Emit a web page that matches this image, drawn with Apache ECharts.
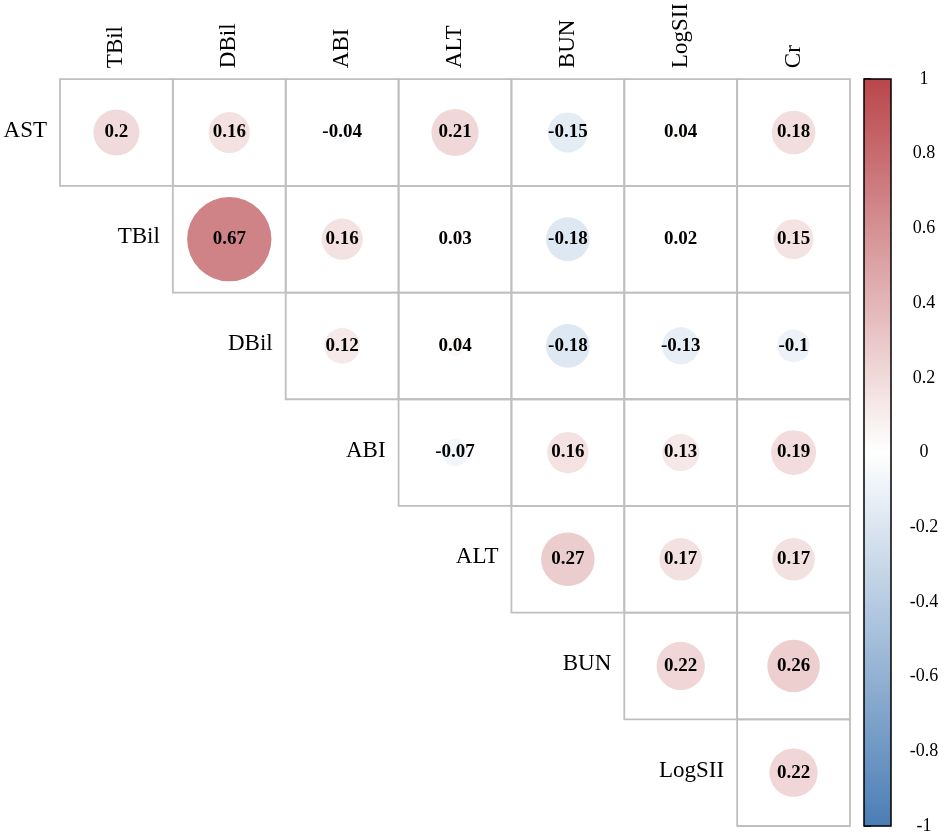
<!DOCTYPE html>
<html><head><meta charset="utf-8">
<script src="https://cdn.jsdelivr.net/npm/echarts@6/dist/echarts.min.js"></script>
<style>html,body{margin:0;padding:0;background:#fff}#c{width:944px;height:837px}</style>
</head><body><div id="c"></div>
<script>
// Column and row variable names
const colLabels = ['TBil', 'DBil', 'ABI', 'ALT', 'BUN', 'LogSII', 'Cr'];
const rowLabels = ['AST', 'TBil', 'DBil', 'ABI', 'ALT', 'BUN', 'LogSII'];

// Upper-triangle correlations, each row starts at the diagonal column
const rowAST    = [0.2, 0.16, -0.04, 0.21, -0.15, 0.04, 0.18];
const rowTBil   = [0.67, 0.16, 0.03, -0.18, 0.02, 0.15];
const rowDBil   = [0.12, 0.04, -0.18, -0.13, -0.1];
const rowABI    = [-0.07, 0.16, 0.13, 0.19];
const rowALT    = [0.27, 0.17, 0.17];
const rowBUN    = [0.22, 0.26];
const rowLogSII = [0.22];

const colorbarMin = -1;
const colorbarMax = 1;
const colorbarStep = 0.2;

const rowValues = [rowAST, rowTBil, rowDBil, rowABI, rowALT, rowBUN, rowLogSII];
const cells = [];
const circles = [];
rowValues.forEach(function (vals, i) {
  vals.forEach(function (v, k) {
    const j = i + k;
    cells.push([j, i]);
    circles.push([j, i, v]);
  });
});
const labelPoints = rowLabels.map(function (name, i) { return [i, i]; });

const FONT = '"Liberation Serif", "Times New Roman", serif';
const RED = '#B9464B';
const BLUE = '#4A7DB5';

const chart = echarts.init(document.getElementById('c'), null, { renderer: 'canvas' });
chart.setOption({
  animation: false,
  backgroundColor: '#fff',
  grid: [
    { left: 60, top: 79, width: 790, height: 747 },
    { left: 864, top: 79, width: 27, height: 747 }
  ],
  xAxis: [
    {
      type: 'category', data: colLabels, position: 'top', gridIndex: 0,
      axisLine: { show: false }, axisTick: { show: false }, splitLine: { show: false },
      axisLabel: { rotate: -90, margin: 11, fontFamily: FONT, fontSize: 23, color: '#000' }
    },
    { type: 'value', gridIndex: 1, min: 0, max: 1, show: false }
  ],
  yAxis: [
    { type: 'category', data: rowLabels, inverse: true, gridIndex: 0, show: false },
    {
      type: 'value', gridIndex: 1, min: colorbarMin, max: colorbarMax, interval: colorbarStep,
      position: 'right',
      axisLine: { show: false },
      axisTick: { show: true, length: 7, lineStyle: { color: '#000', width: 1.5 } },
      splitLine: { show: false },
      axisLabel: {
        margin: 33, align: 'center', fontFamily: FONT, fontSize: 18, color: '#000',
        formatter: function (v) { return String(Math.round(v * 10) / 10); }
      }
    }
  ],
  visualMap: {
    show: false, type: 'continuous', min: colorbarMin, max: colorbarMax,
    dimension: 2, seriesIndex: 1,
    inRange: { color: [BLUE, '#FFFFFF', RED] }
  },
  series: [
    {
      type: 'custom', xAxisIndex: 0, yAxisIndex: 0, data: cells, silent: true,
      renderItem: function (params, api) {
        const c = api.coord([api.value(0), api.value(1)]);
        const s = api.size([1, 1]);
        return {
          type: 'rect',
          shape: { x: c[0] - s[0] / 2, y: c[1] - s[1] / 2, width: s[0], height: s[1] },
          style: { fill: 'none', stroke: '#BFBFBF', lineWidth: 1.8 }
        };
      }
    },
    {
      type: 'scatter', xAxisIndex: 0, yAxisIndex: 0, data: circles, silent: true,
      symbol: 'circle',
      symbolSize: function (v) { return 103 * Math.sqrt(Math.abs(v[2])); },
      itemStyle: { opacity: 1 },
      label: {
        show: true, position: 'inside', color: '#000',
        textBorderWidth: 0,
        fontFamily: FONT, fontWeight: 'bold', fontSize: 19,
        formatter: function (p) { return String(p.value[2]); }
      },
      emphasis: { disabled: true }
    },
    {
      type: 'custom', xAxisIndex: 0, yAxisIndex: 0, data: labelPoints, silent: true,
      renderItem: function (params, api) {
        const c = api.coord([api.value(0), api.value(1)]);
        const s = api.size([1, 1]);
        return {
          type: 'text',
          x: c[0] - s[0] / 2 - 13, y: c[1] - 2,
          style: {
            text: rowLabels[params.dataIndex], fill: '#000',
            fontFamily: FONT, fontSize: 23, align: 'right', verticalAlign: 'middle'
          }
        };
      }
    },
    {
      type: 'custom', xAxisIndex: 1, yAxisIndex: 1, data: [[0, colorbarMax]], silent: true,
      renderItem: function (params, api) {
        const p1 = api.coord([0, colorbarMax]);
        const p2 = api.coord([1, colorbarMin]);
        return {
          type: 'rect',
          shape: { x: p1[0], y: p1[1], width: p2[0] - p1[0], height: p2[1] - p1[1] },
          style: {
            fill: {
              type: 'linear', x: 0, y: 0, x2: 0, y2: 1,
              colorStops: [
                { offset: 0, color: RED },
                { offset: 0.5, color: '#FFFFFF' },
                { offset: 1, color: BLUE }
              ]
            },
            stroke: '#000', lineWidth: 1.5
          }
        };
      }
    }
  ]
});
</script>
</body></html>
